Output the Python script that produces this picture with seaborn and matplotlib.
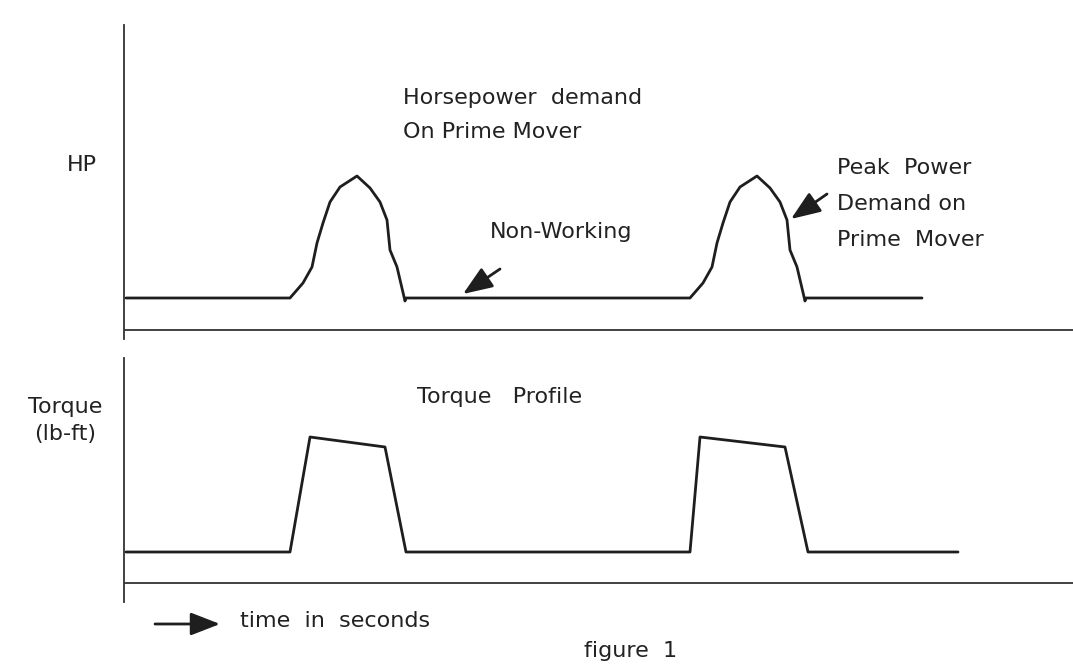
"""Horsepower demand and torque profile of a cyclic load (figure 1)"""
# %% Imports
import pandas as pd
import seaborn as sns
from matplotlib import pyplot as plt

# %% Data
hp_time = [0.05, 4.15, 4.475, 4.7, 4.825, 4.975, 5.15, 5.4, 5.825, 6.15, 6.4, 6.575, 6.65, 6.825, 7.025, 7.05,
           14.15, 14.475, 14.7, 14.825, 14.975, 15.15, 15.4, 15.825, 16.15, 16.4, 16.575, 16.65, 16.825, 17.025, 17.05,
           19.95]
hp_value = [3.2, 3.2, 4.7, 6.3, 8.7, 10.7, 12.8, 14.3, 15.4, 14.2, 12.8, 11.0, 8.0, 6.3, 2.9, 3.2,
            3.2, 4.7, 6.3, 8.7, 10.7, 12.8, 14.3, 15.4, 14.2, 12.8, 11.0, 8.0, 6.3, 2.9, 3.2,
            3.2]
torque_time = [0.05, 4.15, 4.65, 6.525, 7.05, 14.15, 14.4, 16.525, 17.1, 20.85]
torque_value = [3.1, 3.1, 14.6, 13.6, 3.1, 3.1, 14.6, 13.6, 3.1, 3.1]

W, H = 1073, 669
LINE_COLOR = "#1e1e1e"
AXIS_COLOR = "#333333"


def fx(px):
    return px / W


def fy(py):
    return 1 - py / H


# %% Plot
sns.set_style("white")
plt.rcParams["font.family"] = ["DejaVu Sans"]

hp_df = pd.DataFrame({"time": hp_time, "hp": hp_value})
torque_df = pd.DataFrame({"time": torque_time, "torque": torque_value})

fig = plt.figure(figsize=(W / 100, H / 100), dpi=100)
ax_hp = fig.add_axes([fx(124), fy(339), fx(W - 124), (339 - 25) / H])
ax_tq = fig.add_axes([fx(124), fy(602), fx(W - 124), (602 - 358) / H])

sns.lineplot(data=hp_df, x="time", y="hp", ax=ax_hp, color=LINE_COLOR, linewidth=2.0,
             estimator=None, sort=False)
sns.lineplot(data=torque_df, x="time", y="torque", ax=ax_tq, color=LINE_COLOR, linewidth=2.0,
             estimator=None, sort=False)

for ax, ylim in [(ax_hp, (-0.9, 30.5)), (ax_tq, (-1.9, 22.5))]:
    ax.set_xlim(0, (W - 124) / 40)
    ax.set_ylim(*ylim)
    ax.axhline(0, color=AXIS_COLOR, linewidth=1.3)
    for side in ["top", "right", "bottom"]:
        ax.spines[side].set_visible(False)
    ax.spines["left"].set_color(AXIS_COLOR)
    ax.spines["left"].set_linewidth(1.3)
    ax.set_xticks([])
    ax.set_yticks([])
    ax.set_xlabel("")
    ax.set_ylabel("")
    ax.patch.set_alpha(0)

# text labels
fs = 16
txt = dict(fontsize=fs, color="#222222", va="center")
fig.text(fx(97), fy(165), "HP", ha="right", **txt)
fig.text(fx(403), fy(98), "Horsepower  demand", ha="left", **txt)
fig.text(fx(403), fy(132), "On Prime Mover", ha="left", **txt)
fig.text(fx(561), fy(232), "Non-Working", ha="center", **txt)
fig.text(fx(837), fy(168), "Peak  Power", ha="left", **txt)
fig.text(fx(837), fy(204), "Demand on", ha="left", **txt)
fig.text(fx(837), fy(240), "Prime  Mover", ha="left", **txt)
fig.text(fx(500), fy(397), "Torque   Profile", ha="center", **txt)
fig.text(fx(65), fy(407), "Torque", ha="center", **txt)
fig.text(fx(65), fy(434), "(lb-ft)", ha="center", **txt)
fig.text(fx(240), fy(621), "time  in  seconds", ha="left", **txt)
fig.text(fx(631), fy(651), "figure  1", ha="center", **txt)

# arrows
arrow = dict(arrowstyle="-|>,head_length=0.9,head_width=0.35", color=LINE_COLOR, linewidth=2.0,
             shrinkA=0, shrinkB=0, mutation_scale=20)
fig.add_artist(plt.matplotlib.patches.FancyArrowPatch((fx(500), fy(269)), (fx(463), fy(294)),
                                                      transform=fig.transFigure, **arrow))
fig.add_artist(plt.matplotlib.patches.FancyArrowPatch((fx(827), fy(194)), (fx(791), fy(219)),
                                                      transform=fig.transFigure, **arrow))
fig.add_artist(plt.matplotlib.patches.FancyArrowPatch((fx(155), fy(624)), (fx(220), fy(624)),
                                                      transform=fig.transFigure, **arrow))

fig.savefig("out.png", dpi=100)
